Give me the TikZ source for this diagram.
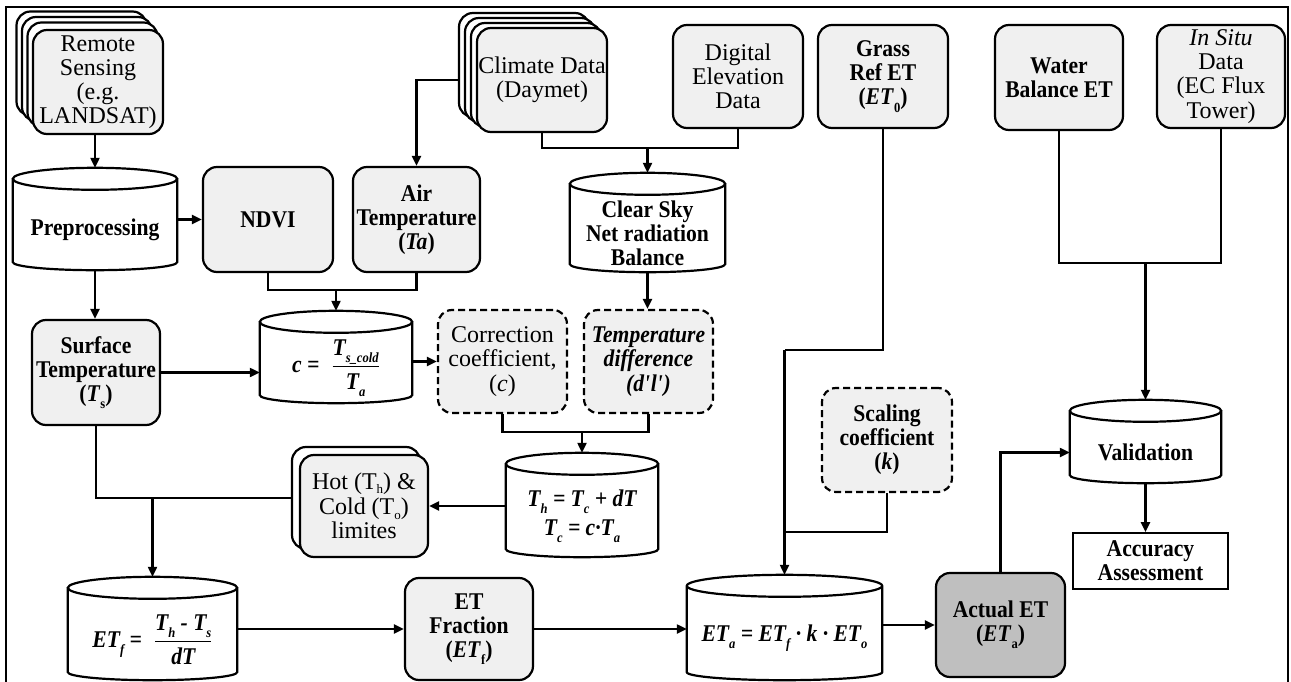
\documentclass[tikz,border=0pt]{standalone}
\usepackage{fontspec}
\setmainfont{Liberation Serif}[BoldFeatures={FakeStretch=0.9},BoldItalicFeatures={FakeStretch=0.9}]
\usetikzlibrary{arrows.meta,calc}
\newcommand\fs{\fontsize{24}{24.2}\selectfont}
\newcommand\lsub[1]{\raisebox{-0.3em}{\fontsize{14}{14}\selectfont #1}}
\newcommand\hsub[1]{\raisebox{-0.18em}{\fontsize{13}{13}\selectfont #1}}
\newcommand\drawcyl[1]{%
  \draw[cylline] let \p1=(#1.north west), \p2=(#1.south east), \n1={0.5*(\x2-\x1)} in
    (\x1,\y1+11pt) -- (\x1,\y2+8pt) arc[start angle=180,end angle=360,x radius=\n1,y radius=8pt] -- (\x2,\y1+11pt)
    (\x1+\n1,\y1+11pt) ellipse[x radius=\n1,y radius=11pt];}
\begin{document}
\begin{tikzpicture}[x=1pt,y=-1pt,
  nf/.style={font=\fs},
  bf/.style={font=\fs\bfseries},
  bi/.style={font=\fs\bfseries\itshape},
  rbox/.style={draw, line width=2.2pt, rounded corners=14pt, fill=gray!12, align=center, inner sep=0pt},
  backbox/.style={rbox, fill=white},
  dbox/.style={rbox, dash pattern=on 7pt off 4pt},
  darkbox/.style={rbox, fill=gray!50},
  plainbox/.style={draw, line width=1.8pt, fill=white, align=center, inner sep=0pt},
  cylnode/.style={align=center, inner sep=0pt},
  cylline/.style={line width=2.2pt},
  conn/.style={line width=2.2pt},
  arr/.style={line width=2.2pt, -{Triangle[length=10pt,width=9pt]}},
  frame/.style={line width=2pt}]
\useasboundingbox (0,0) rectangle (1291,682);
\draw[frame] (6,700) -- (6,7) -- (1288,7) -- (1288,700);

% ---- top row ----
\node[backbox,minimum width=130,minimum height=104] (rsb3) at (81.5,63.5) {};
\node[backbox,minimum width=130,minimum height=104] (rsb2) at (87,69) {};
\node[backbox,minimum width=130,minimum height=104] (rsb1) at (92.5,74.5) {};
\node[rbox,nf,minimum width=130,minimum height=104] (rs) at (98,82) {Remote\\Sensing\\(e.g.\\LANDSAT)};

\node[backbox,minimum width=130,minimum height=104] (climb3) at (524,65) {};
\node[backbox,minimum width=130,minimum height=104] (climb2) at (530,70) {};
\node[backbox,minimum width=130,minimum height=104] (climb1) at (536,75) {};
\node[rbox,nf,minimum width=130,minimum height=104] (clim) at (542,80) {Climate Data\\(Daymet)};

\node[rbox,nf,minimum width=130,minimum height=103] (dem) at (738,76.5) {Digital\\Elevation\\Data};
\node[rbox,bf,minimum width=130,minimum height=103] (grass) at (883,76.5) {Grass\\Ref ET\\(\textit{ET}\lsub{0})};
\node[rbox,bf,minimum width=128,minimum height=105] (water) at (1059,77.5) {Water\\Balance ET};
\node[rbox,nf,minimum width=128,minimum height=103] (insitu) at (1221,76.5) {\textit{In Situ}\\Data\\(EC Flux\\Tower)};

% ---- second row ----
\node[cylnode,bf,minimum width=164,minimum height=80] (pre) at (95,230) {Preprocessing};
\drawcyl{pre}
\node[rbox,bf,minimum width=130,minimum height=105] (ndvi) at (268,219.5) {NDVI};
\node[rbox,bf,minimum width=127,minimum height=105] (air) at (416.5,219.5) {Air\\Temperature\\(\textit{Ta})};
\node[cylnode,bf,minimum width=155,minimum height=77] (csky) at (647.5,233.5) {Clear Sky\\Net radiation\\Balance};
\drawcyl{csky}

% ---- third row ----
\node[rbox,bf,minimum width=128,minimum height=105] (surf) at (96,372.5) {Surface\\Temperature\\(\textit{T}\lsub{s})};
\node[cylnode,bi,minimum width=152,minimum height=70] (ccyl) at (336,368)
  {\textit{c} =\enspace$\displaystyle\frac{\hbox{\textit{T}\lsub{s\_cold}}}{\hbox{\textit{T}\lsub{a}}}$};
\drawcyl{ccyl}
\node[dbox,nf,minimum width=129,minimum height=103] (corr) at (502.5,361.5) {Correction\\coefficient,\\(\textit{c})};
\node[dbox,bi,minimum width=129,minimum height=103] (tdiff) at (648.5,361.5) {Temperature\\difference\\(d\textquotesingle l\textquotesingle)};
\node[dbox,bf,minimum width=130,minimum height=104] (scal) at (887,440) {Scaling\\coefficient\\(\textit{k})};
\node[cylnode,bf,minimum width=151,minimum height=61] (val) at (1145.5,452.5) {Validation};
\drawcyl{val}

% ---- fourth row ----
\node[backbox,minimum width=128,minimum height=102] (hotb) at (356,498) {};
\node[rbox,nf,minimum width=128,minimum height=102] (hot) at (364,506) {Hot (T\hsub{h}) \&\\[1pt]Cold (T\hsub{o})\\limites};
\node[cylnode,bi,minimum width=152,minimum height=82] (thcyl) at (582,516)
  {\textit{T}\lsub{h} = \textit{T}\lsub{c} + \textit{dT}\\[5pt]\textit{T}\lsub{c} = \textit{c}\textperiodcentered\textit{T}\lsub{a}};
\drawcyl{thcyl}
\node[plainbox,bf,minimum width=155,minimum height=56] (acc) at (1150.5,561) {Accuracy\\Assessment};

% ---- bottom row ----
\node[cylnode,bi,minimum width=169,minimum height=81] (etf) at (152.5,639.5)
  {\textit{ET}\lsub{f} =\enspace$\displaystyle\frac{\hbox{\textit{T}\lsub{h} - \textit{T}\lsub{s}}}{\hbox{\textit{dT}}}$};
\drawcyl{etf}
\node[rbox,bf,minimum width=128,minimum height=102] (etfrac) at (469,629) {ET\\Fraction\\(\textit{ET}\lsub{f})};
\node[cylnode,bi,minimum width=195,minimum height=83] (eta) at (784.5,638.5)
  {\textit{ET}\lsub{a} = \textit{ET}\lsub{f} \textperiodcentered\ \textit{k} \textperiodcentered\ \textit{ET}\lsub{o}};
\drawcyl{eta}
\node[darkbox,bf,minimum width=129,minimum height=104] (act) at (1000.5,625) {Actual ET\\(\textit{ET}\lsub{a})};

% ---- junction coordinates ----
\coordinate (j1) at (647.5,148);
\coordinate (j2) at (336,290);
\coordinate (j3) at (582,432);
\coordinate (j6) at (784.5,350);
\coordinate (j7) at (784.5,532);
\coordinate (j8) at (1145.5,263);

% ---- connectors ----
\draw[arr] (rs.south -| pre.north) -- ([yshift=22pt]pre.north);
\draw[arr] (ndvi.west -| pre.east) -- (ndvi.west);
\draw[arr] (pre.south) -- (pre.south |- surf.north);
\draw[arr] (climb3.west |- clim.west) -| (air.north);
\draw[conn] (clim.south) |- (j1) -| (dem.south);
\draw[arr] (j1) -- ([yshift=22pt]csky.north);
\draw[arr] (csky.south) -- (csky.south |- tdiff.north);
\draw[conn] (ndvi.south) |- (j2) -| (air.south);
\draw[arr] (j2) -- ([yshift=22pt]ccyl.north);
\draw[arr] (surf.east) -- (surf.east -| ccyl.west);
\draw[arr] (ccyl.east |- corr.west) -- (corr.west);
\draw[conn] (corr.south) |- (j3) -| (tdiff.south);
\draw[arr] (j3) -- ([yshift=22pt]thcyl.north);
\draw[arr] (thcyl.west |- hot.east) -- (hot.east);
\draw[conn] (surf.south) |- (hotb.west);
\draw[arr] (etf.north |- hotb.west) -- ([yshift=22pt]etf.north);
\draw[arr] (etf.east |- etfrac.west) -- (etfrac.west);
\draw[arr] (etfrac.east) -- (etfrac.east -| eta.west);
\draw[arr] (eta.east |- act.west) -- (act.west);
\draw[conn] (grass.south) |- (j6);
\draw[arr] (j6) -- ([yshift=22pt]eta.north);
\draw[conn] (scal.south) |- (j7);
\draw[conn] (water.south) |- (j8) -| (insitu.south);
\draw[arr] (j8) -- ([yshift=22pt]val.north);
\draw[arr] (val.south) -- (val.south |- acc.north);
\draw[arr] (act.north) |- (val.west);
\end{tikzpicture}
\end{document}
